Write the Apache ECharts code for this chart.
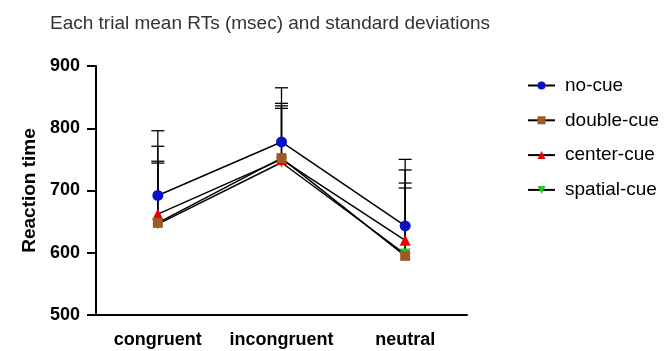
<!DOCTYPE html>
<html>
<head>
<meta charset="utf-8">
<script src="https://cdn.jsdelivr.net/npm/echarts@6/dist/echarts.min.js"></script>
<style>html,body{margin:0;padding:0;background:#fff}#c{width:665px;height:351px}</style>
</head>
<body>
<div id="c"></div>
<script>
var categories = ['congruent', 'incongruent', 'neutral'];
var seriesNames = ['no-cue', 'double-cue', 'center-cue', 'spatial-cue'];
var noCue = [692, 778, 643];
var doubleCue = [648, 752, 595];
var centerCue = [662, 750, 620];
var spatialCue = [646, 745, 598];
var noCueSD = [104, 87, 107];
var doubleCueSD = [99, 88, 117];
var centerCueSD = [109, 86, 113];
var spatialCueSD = [98, 87, 106];
var yTicks = [500, 600, 700, 800, 900];

var means = [noCue, doubleCue, centerCue, spatialCue];
var sds = [noCueSD, doubleCueSD, centerCueSD, spatialCueSD];
var colors = ['#0a0fcc', '#9c5a28', '#e80000', '#1ccc1c'];
var symbols = ['circle', 'rect', 'triangle', 'path://M0,0 L10,0 L5,9 Z'];
var sizes = [11, 10, 11, 11];

var chart = echarts.init(document.getElementById('c'), null, {renderer: 'canvas'});
var series = [];
means.forEach(function (m, si) {
  var data = m.map(function (v, i) { return [i, v, v + sds[si][i]]; });
  series.push({
    type: 'custom',
    name: seriesNames[si] + '-err',
    z: 1,
    silent: true,
    data: data,
    renderItem: function (params, api) {
      var x = api.value(0);
      var p0 = api.coord([x, api.value(1)]);
      var p1 = api.coord([x, api.value(2)]);
      var hw = 6.5;
      return {
        type: 'group',
        children: [
          {type: 'line', shape: {x1: p0[0], y1: p0[1], x2: p1[0], y2: p1[1]}, style: {stroke: '#000', lineWidth: 1.3}},
          {type: 'line', shape: {x1: p1[0] - hw, y1: p1[1], x2: p1[0] + hw, y2: p1[1]}, style: {stroke: '#000', lineWidth: 1.3}}
        ]
      };
    }
  });
});
var order = [3, 2, 1, 0];
order.forEach(function (si, k) {
  series.push({
    type: 'line',
    name: seriesNames[si],
    data: means[si],
    z: 3 + k,
    symbol: symbols[si],
    symbolSize: sizes[si],
    showAllSymbol: true,
    itemStyle: {color: colors[si], borderWidth: 0},
    lineStyle: {color: '#000', width: 1.5},
    emphasis: {disabled: true},
    animation: false
  });
});

chart.setOption({
  animation: false,
  backgroundColor: '#fff',
  title: {
    text: 'Each trial mean RTs (msec) and standard deviations',
    left: 45, top: 9,
    textStyle: {fontFamily: 'Liberation Sans, Arial, sans-serif', fontSize: 19, fontWeight: 'normal', color: '#333'}
  },
  legend: {
    orient: 'vertical',
    left: 522, top: 71,
    itemWidth: 27, itemHeight: 10, itemGap: 15.8,
    data: seriesNames,
    textStyle: {fontFamily: 'Liberation Sans, Arial, sans-serif', fontSize: 19, color: '#000', padding: [0, 0, 0, 5]}
  },
  grid: {left: 96, right: 198, top: 66, bottom: 36, containLabel: false},
  xAxis: {
    type: 'category',
    data: categories,
    boundaryGap: true,
    axisLine: {lineStyle: {color: '#000', width: 2}},
    axisTick: {alignWithLabel: true, length: 9, lineStyle: {color: '#000', width: 2}},
    axisLabel: {interval: 0, margin: 16, fontFamily: 'Liberation Sans, Arial, sans-serif', fontSize: 18, fontWeight: 'bold', color: '#000'}
  },
  yAxis: {
    type: 'value',
    min: 500, max: 900, interval: 100,
    name: 'Reaction time',
    nameLocation: 'middle',
    nameGap: 52,
    nameTextStyle: {fontFamily: 'Liberation Sans, Arial, sans-serif', fontSize: 19, fontWeight: 'bold', color: '#000'},
    axisLine: {show: true, lineStyle: {color: '#000', width: 2}},
    axisTick: {show: true, length: 9, lineStyle: {color: '#000', width: 2}},
    splitLine: {show: false},
    axisLabel: {margin: 16, fontFamily: 'Liberation Sans, Arial, sans-serif', fontSize: 18, fontWeight: 'bold', color: '#000',
      formatter: function (v) { return yTicks.indexOf(v) >= 0 ? String(v) : ''; }}
  },
  series: series
});
</script>
</body>
</html>
